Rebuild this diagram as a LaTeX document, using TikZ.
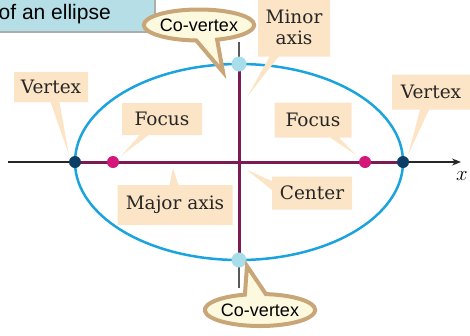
\documentclass[tikz,border=0pt]{standalone}
\usepackage{fontspec}
\newfontfamily\labelsans{Liberation Sans}
\newfontfamily\labelserif{DejaVu Serif}
\usetikzlibrary{shapes.callouts,shapes.geometric,arrows.meta,positioning}
\definecolor{tagfill}{HTML}{FCE4C6}
\definecolor{bubblefill}{HTML}{FDF9DE}
\definecolor{bubbleedge}{HTML}{C9A677}
\definecolor{ellipsecol}{HTML}{1BA3DD}
\definecolor{axispurple}{HTML}{7A1B55}
\definecolor{focuscol}{HTML}{D4157A}
\definecolor{vertexcol}{HTML}{0D3F66}
\definecolor{covertexcol}{HTML}{A8DEE9}
\definecolor{titlebg}{HTML}{B5DEE6}

\begin{document}
\begin{tikzpicture}[x=1pt, y=-1pt,
  tag/.style={rectangle callout, fill=tagfill, text=black!85, inner sep=2pt,
    font=\labelserif\fontsize{18.5}{21}\selectfont, callout pointer width=9pt},
  bubble/.style={ellipse callout, draw=bubbleedge, line width=4pt, fill=bubblefill,
    font=\labelsans\fontsize{18}{20}\selectfont, inner sep=0pt, callout pointer arc=22},
  dot/.style={circle, inner sep=0pt, minimum size=#1}
]
\useasboundingbox (0,0) rectangle (470,335);
\clip (0,0) rectangle (470,335);

% title strip
\draw[fill=titlebg, draw=gray!65, line width=2.5pt] (-10,-10) rectangle (155,32);
\node[anchor=base east, font=\labelsans\fontsize{21}{23}\selectfont, inner sep=0pt] (title) at (111,19) {of an ellipse};

% points of the ellipse
\coordinate (ctr) at (239,162);
\coordinate (vl) at (75,162);
\coordinate (vr) at (403,162);
\coordinate (fl) at (113,162);
\coordinate (fr) at (365,162);
\coordinate (ct) at (239,64);
\coordinate (cb) at (239,260);
\coordinate (xl) at (8,162);
\coordinate (xr) at (461,162);
\coordinate (yt) at (239,42);
\coordinate (yb) at (239,288);

\draw[black!85, line width=1.4pt, -{Stealth[length=9pt,width=7pt]}] (xl) -- (xr);
\node[font=\fontsize{20}{22}\selectfont, inner sep=1pt] (xlabel) at (462,176) {$x$};
\draw[gray!70!black, line width=1.4pt] (yt) -- (yb);
\draw[axispurple, line width=3pt] (vl) -- (vr);
\draw[axispurple, line width=3pt] (ct) -- (cb);
\draw[ellipsecol, line width=2.5pt] (ctr) ellipse [x radius=164, y radius=98];

\node[dot=12pt, fill=vertexcol] (vleft) at (vl) {};
\node[dot=12pt, fill=vertexcol] (vright) at (vr) {};
\node[dot=12pt, fill=focuscol] (fleft) at (fl) {};
\node[dot=12pt, fill=focuscol] (fright) at (fr) {};
\node[dot=15pt, fill=covertexcol] (cvtop) at (ct) {};
\node[dot=15pt, fill=covertexcol] (cvbot) at (cb) {};

% callouts
\node[tag, minimum width=74pt, minimum height=30pt, callout absolute pointer={(69,155)}] (vtagl) at (51,87) {Vertex};
\node[tag, minimum width=80pt, minimum height=32pt, callout absolute pointer={(121,156)}] (ftagl) at (162,119) {Focus};
\node[tag, minimum width=115pt, minimum height=40pt, callout absolute pointer={(173,168)}] (majtag) at (175,205) {Major axis};
\node[tag, minimum width=80pt, minimum height=33pt, callout absolute pointer={(247,170)}] (ctag) at (312,193) {Center};
\node[tag, minimum width=77pt, minimum height=35pt, callout absolute pointer={(356,155)}] (ftagr) at (313,120) {Focus};
\node[tag, minimum width=78pt, minimum height=35pt, callout absolute pointer={(408,155)}] (vtagr) at (431,92) {Vertex};
\node[tag, minimum width=72pt, minimum height=59pt, align=center, callout absolute pointer={(247,97)}] (mintag) at (294,27) {Minor\\axis};
\node[bubble, minimum width=106pt, minimum height=31pt, callout absolute pointer={(223,72)}] (cvtagt) at (199,25) {Co-vertex};
\node[bubble, minimum width=108pt, minimum height=32pt, callout absolute pointer={(247,266)}] (cvtagb) at (260,310) {Co-vertex};

\end{tikzpicture}
\end{document}
